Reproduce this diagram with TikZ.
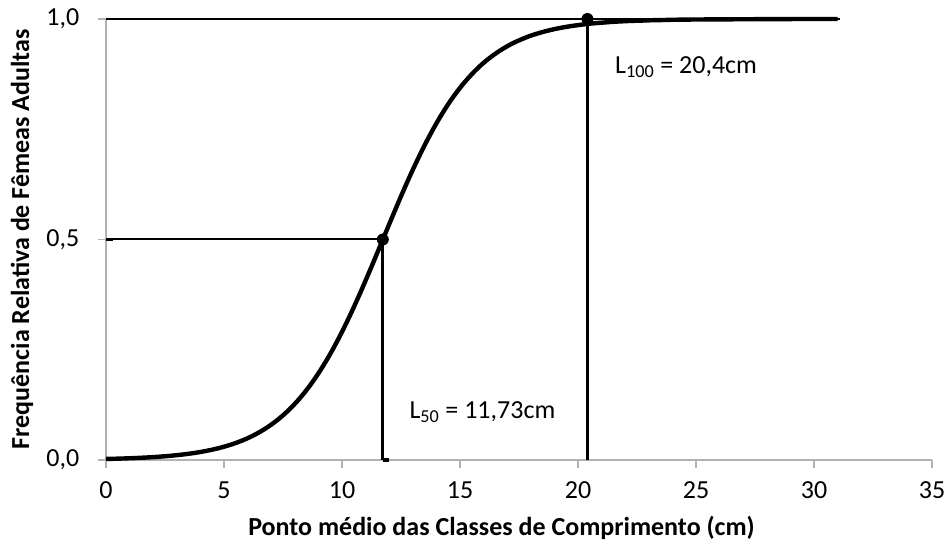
\documentclass[tikz,border=0pt]{standalone}
\usepackage{fontspec}
\setmainfont{Carlito}
\usepackage{tikz}
\usetikzlibrary{positioning}
\tikzstyle{axis} = [draw, gray!60, line width=0.9pt]
\tikzstyle{guide} = [draw, line width=1.5pt]
\tikzstyle{drop} = [draw, line width=2.3pt]
\tikzstyle{curve} = [draw, line width=3.3pt, line join=round]
\tikzstyle{marker} = [circle, fill=black, inner sep=0pt, minimum size=9pt]
\tikzstyle{ticklabel} = [font=\fontsize{19.5}{23}\selectfont]
\tikzstyle{title} = [font=\fontsize{19.5}{23}\selectfont\bfseries]

\begin{document}
\begin{tikzpicture}[x=17.7pt, y=330.75pt]
    \useasboundingbox (-79.5pt,-66.75pt) rectangle (632.25pt,345pt);
    % Axes
    \path [axis] (0,0) -- (35,0);
    \path [axis] (0,0) -- (0,1);
    \foreach \x in {0,5,...,35} {
        \path [axis] (\x,0) -- ++(0,-6pt);
        \node [ticklabel, anchor=north] at ([yshift=-13pt]\x,0) {\x};
    }
    \foreach \y/\ylab in {0/{0,0},0.5/{0,5},1/{1,0}} {
        \path [axis] (0,\y) -- ++(-6pt,0);
        \node [ticklabel, anchor=east] at ([xshift=-16.5pt]0,\y) {\ylab};
    }
    \node [title, rotate=90] (ytitle) at ([xshift=-63pt]0,0.501) {Frequência Relativa de Fêmeas Adultas};
    \node [title] (xtitle) at ([yshift=-51pt]16.76,0) {Ponto médio das Classes de Comprimento (cm)};
    % Nodes
    \coordinate (half) at (0,0.5);
    \coordinate (full) at (0,1);
    \coordinate (fullend) at (31.1,1);
    \coordinate (base50) at (11.73,0);
    \coordinate (base100) at (20.4,0);
    \node [marker] (l50) at (11.73,0.5) {};
    \node [marker] (l100) at (20.4,1) {};
    \node [ticklabel] (lbl50) at (15.95,0.109) {L\textsubscript{50} = 11,73cm};
    \node [ticklabel] (lbl100) at (24.58,0.891) {L\textsubscript{100} = 20,4cm};
    % Edges
    \path [guide] (full) -- (fullend);
    \path [guide] (half) -- (l50.center);
    \path [drop] (base50) -- (l50.center);
    \path [drop] (base100) -- (l100.center);
    \path [drop] (base50) -- ++(0.25,0);
    \path [drop] (half) -- ++(0.3,0);
    % Logistic curve
    \draw [curve] plot [domain=0:31, samples=120, smooth] (\x, {1/(1+exp(-0.516*(\x-11.73)))});
\end{tikzpicture}
\end{document}
